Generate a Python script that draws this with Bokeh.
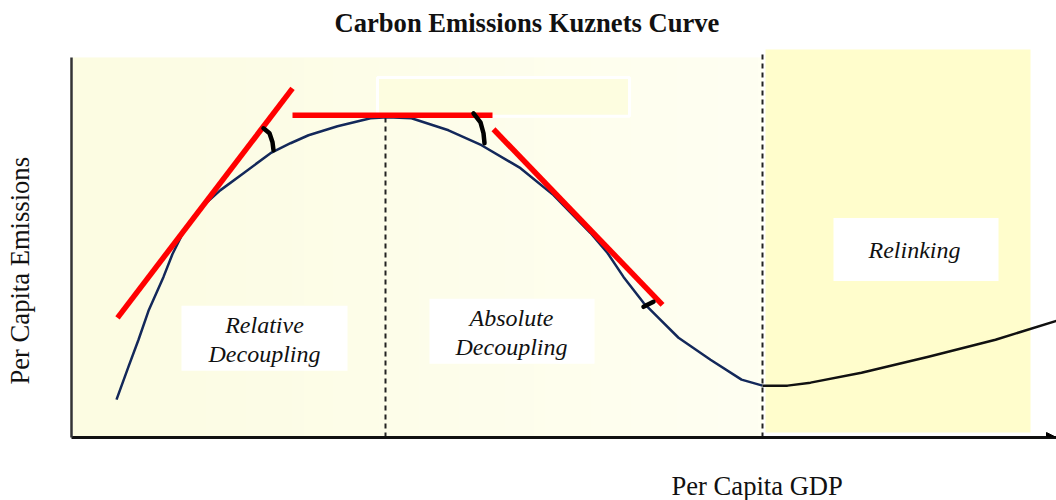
import numpy as np
from bokeh.plotting import figure
from bokeh.models import Range1d, FixedTicker, Arrow, NormalHead, ColumnDataSource, Title
from bokeh.core.properties import value
from bokeh.embed import file_html
from bokeh.resources import INLINE

# ---------------- data (x: per capita GDP index, y: per capita emissions index) -------------
curve_gdp_decoupling = [45, 57, 67, 77, 92, 101, 112, 121, 129, 149, 172, 199, 219, 237, 266, 299, 316,
                        340, 377, 410, 449, 482, 519, 536, 552, 572, 586, 607, 639, 670, 684, 691]
curve_emis_decoupling = [38, 71, 98, 127, 161, 184, 206, 220, 230, 248, 265, 285, 295, 303, 312, 320, 321,
                         320, 308, 293, 270, 243, 205, 185, 161, 135, 121, 100, 78, 58, 54, 52]
curve_gdp_relinking = [691, 716, 739, 790, 857, 924, 985]
curve_emis_relinking = [52, 52, 55, 65, 81, 98, 117]

# tangent lines (start / end)
tangent_x0 = [46, 221, 422]
tangent_y0 = [120, 323, 309]
tangent_x1 = [221, 421, 591]
tangent_y1 = [350, 323, 133]

# angle markers between tangent and curve
angle_xs = [[192, 198, 201, 202], [402, 409, 412, 413], [572, 582]]
angle_ys = [[310, 305, 296, 288], [325, 316, 305, 295], [131, 136]]

# stage boundaries (dashed)
stage_x = [314, 691]
stage_top = [321, 386]

# shaded phases: left, right, bottom, top
decoupling_area = [1.5, 691, 0, 381]
relinking_area = [694, 959, 5, 389]

# label boxes
box_left = [110, 358, 762]
box_right = [276, 523, 927]
box_bottom = [67, 74, 157]
box_top = [132, 139, 220]
blank_box = [306, 558, 322, 361]

label_lines = ["Relative", "Decoupling", "Absolute", "Decoupling", "Relinking"]
label_x = [193, 193, 440, 440, 843]
label_y = [113, 84, 120, 91, 188]

TITLE = "Carbon Emissions Kuznets Curve"
XLABEL = "Per Capita GDP"
YLABEL = "Per Capita Emissions"

SERIF = "Liberation Serif"

p = figure(width=1056, height=500, output_backend="svg", toolbar_location=None,
           x_range=Range1d(0, 985), y_range=Range1d(0, 398),
           min_border_left=71, min_border_right=0, min_border_top=40, min_border_bottom=62)
p.xgrid.visible = False
p.ygrid.visible = False
p.outline_line_color = None
p.background_fill_color = "white"
p.border_fill_color = "white"

for ax in (p.xaxis[0], p.yaxis[0]):
    ax.ticker = FixedTicker(ticks=[])
    ax.major_tick_line_color = None
    ax.minor_tick_line_color = None
    ax.major_tick_in = 0
    ax.major_tick_out = 0
    ax.major_label_standoff = 0
    ax.major_label_text_font_size = "0px"
    # spacer so the axis titles sit where the reference has them
    ax.axis_label = " "
    ax.axis_label_text_font_size = "1px"
p.xaxis.axis_label_standoff = 27
p.yaxis.axis_label_standoff = 33
p.xaxis.axis_line_width = 3
p.xaxis.axis_line_color = "#111111"
p.xaxis.bounds = (0, 985)
p.yaxis.axis_line_width = 2.5
p.yaxis.axis_line_color = "#333333"
p.yaxis.bounds = (0, 381)

# titles: chart title above, axis titles below / left
p.add_layout(Title(text=TITLE, align="left", offset=263, standoff=6,
                   text_font=SERIF, text_font_style="bold", text_font_size="26.6px",
                   text_color="#111111"), "above")
p.add_layout(Title(text=XLABEL, align="left", offset=600, standoff=0,
                   text_font=SERIF, text_font_style="normal", text_font_size="26.6px",
                   text_color="#111111"), "below")
p.add_layout(Title(text=YLABEL, align="left", offset=53, standoff=0,
                   text_font=SERIF, text_font_style="normal", text_font_size="26.6px",
                   text_color="#111111"), "left")

# decoupling phase background (soft gradient)
n = 120
img = np.zeros((1, n), dtype=np.uint32)
view = img.view(dtype=np.uint8).reshape((1, n, 4))
t = np.linspace(0, 1, n)
view[0, :, 0] = (252 + 3 * t).astype(np.uint8)
view[0, :, 1] = (252 + 3 * t).astype(np.uint8)
view[0, :, 2] = (226 + 16 * t).astype(np.uint8)
view[0, :, 3] = 255
p.image_rgba(image=[img], x=decoupling_area[0], y=decoupling_area[2],
             dw=decoupling_area[1] - decoupling_area[0], dh=decoupling_area[3] - decoupling_area[2])

# relinking phase background
p.quad(left=[relinking_area[0]], right=[relinking_area[1]], bottom=[relinking_area[2]],
       top=[relinking_area[3]], fill_color="#FFFDCC", line_color=None)

# blank outlined box
p.quad(left=[blank_box[0]], right=[blank_box[1]], bottom=[blank_box[2]], top=[blank_box[3]],
       fill_color="#FDFDE0", line_color="white", line_width=3)

# white label boxes
p.quad(left=box_left, right=box_right, bottom=box_bottom, top=box_top,
       fill_color="white", line_color=None)

# dashed stage boundaries
p.segment(x0=stage_x, y0=[0] * len(stage_x), x1=stage_x, y1=stage_top,
          line_color="#222222", line_width=2, line_dash="5 4")

# the curve
p.line(curve_gdp_decoupling, curve_emis_decoupling, line_color="#13285A", line_width=2.5,
       line_join="round")
p.line(curve_gdp_relinking, curve_emis_relinking, line_color="#111111", line_width=2.5,
       line_join="round")

# tangents
p.segment(x0=tangent_x0, y0=tangent_y0, x1=tangent_x1, y1=tangent_y1,
          line_color="#FF0000", line_width=5.5)

# angle markers
p.multi_line(xs=angle_xs, ys=angle_ys, line_color="black", line_width=4.5, line_cap="round")

# phase labels
src = ColumnDataSource(dict(x=label_x, y=label_y, text=label_lines))
p.text(x="x", y="y", text="text", source=src, text_font=value(SERIF), text_font_style="italic",
       text_font_size="24px", text_align="center", text_baseline="middle", text_color="#111111")

# axis arrow head
p.add_layout(Arrow(end=NormalHead(size=10, fill_color="black", line_color="black"),
                   x_start=950, y_start=0, x_end=985, y_end=0,
                   line_width=3, line_color="#111111"))

open("out.html", "w").write(file_html(p, INLINE))
